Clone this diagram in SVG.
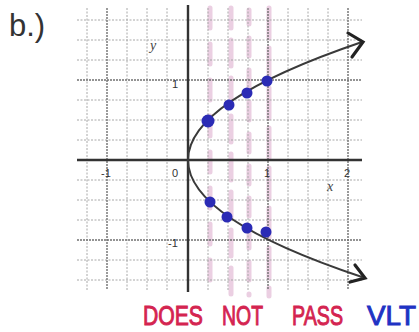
<svg xmlns="http://www.w3.org/2000/svg" width="419" height="332" viewBox="0 0 419 332">
<style>
.grid{stroke:#a8a8a8;stroke-width:1;stroke-dasharray:2 1.5;fill:none}
.major{stroke:#707070;stroke-width:1.4;stroke-dasharray:2 1;fill:none}
.axis{stroke:#333;stroke-width:2.4;fill:none}
.pink{stroke:#d7a0c6;stroke-width:5;stroke-linecap:round;opacity:0.5;fill:none}
.curve{stroke:#3a3a3a;stroke-width:2;fill:none}
.arrow{stroke:#222;stroke-width:3.2;fill:none;stroke-linejoin:miter;stroke-linecap:round}
.dot{fill:#2b2bb5}
.lbl{font-family:"Liberation Sans",Arial,sans-serif;font-size:11px;fill:#333;text-anchor:middle}
.var{font-family:"Liberation Serif",serif;font-style:italic;font-size:14px;fill:#444;text-anchor:middle}
.red{font-family:"Liberation Sans",Arial,sans-serif;font-size:28px;fill:#d42450;stroke:#d42450;stroke-width:1}
.blue{font-family:"Liberation Sans",Arial,sans-serif;font-size:28px;fill:#1f33c4;stroke:#1f33c4;stroke-width:1}
</style>
<rect width="419" height="332" fill="#ffffff"/>
<text x="9" y="36" font-family="Liberation Sans,Arial,sans-serif" font-size="31" fill="#333">b.)</text>

<g id="pink-strokes">
<line class="pink" x1="210" y1="8" x2="210" y2="295" stroke-dasharray="20 16"/>
<line class="pink" x1="231" y1="8" x2="231" y2="295" stroke-dasharray="26 12" stroke-dashoffset="6"/>
<line class="pink" x1="249" y1="10" x2="249" y2="295" stroke-dasharray="18 14" stroke-dashoffset="4"/>
<line class="pink" x1="269" y1="8" x2="269" y2="296" stroke-dasharray="30 10"/>
</g>

<g id="grid">
<path class="grid" d="M87,8V290M127,8V290M147,8V290M167,8V290M208,8V290M228,8V290M248,8V290M288,8V290M308,8V290M328,8V290"/>
<path class="grid" d="M77,20H362M77,40H362M77,60H362M77,100H362M77,120H362M77,140H362M77,180H362M77,200H362M77,220H362M77,260H362M77,280H362"/>
<path class="major" d="M107,8V290M268,8V290M348,8V290M77,80H362M77,240H362"/>
<path class="axis" d="M188,5V292M77,160H362"/>
</g>

<g id="labels">
<text class="var" x="153" y="50">y</text>
<text class="lbl" x="175" y="88">1</text>
<text class="lbl" x="106" y="177">-1</text>
<text class="lbl" x="175" y="177">0</text>
<text class="lbl" x="267" y="177">1</text>
<text class="lbl" x="347" y="177">2</text>
<text class="var" x="330" y="191">x</text>
<text class="lbl" x="173" y="247">-1</text>
</g>

<g id="connectors">
<path class="curve" d="M188,160Q188,101 362,42"/>
<path class="curve" d="M188,160Q188,219 362,277"/>
<polyline class="arrow" points="348,33 363,42 352,57"/>
<polyline class="arrow" points="355,265 365,278 350,282"/>
</g>

<g id="points">
<circle class="dot" cx="208" cy="121" r="6.5"/>
<circle class="dot" cx="229" cy="105" r="5.5"/>
<circle class="dot" cx="247" cy="93" r="5.5"/>
<circle class="dot" cx="267" cy="81" r="5.5"/>
<circle class="dot" cx="210" cy="202" r="5.5"/>
<circle class="dot" cx="227" cy="217" r="5.5"/>
<circle class="dot" cx="247" cy="228" r="5.5"/>
<circle class="dot" cx="266" cy="232" r="5.5"/>
</g>

<g id="caption">
<text class="red" x="143" y="325" textLength="60" lengthAdjust="spacingAndGlyphs">DOES</text>
<text class="red" x="222" y="325" textLength="41" lengthAdjust="spacingAndGlyphs">NOT</text>
<text class="red" x="292" y="325" textLength="51" lengthAdjust="spacingAndGlyphs">PASS</text>
<text class="blue" x="367" y="325" textLength="49" lengthAdjust="spacingAndGlyphs">VLT</text>
</g>
</svg>
